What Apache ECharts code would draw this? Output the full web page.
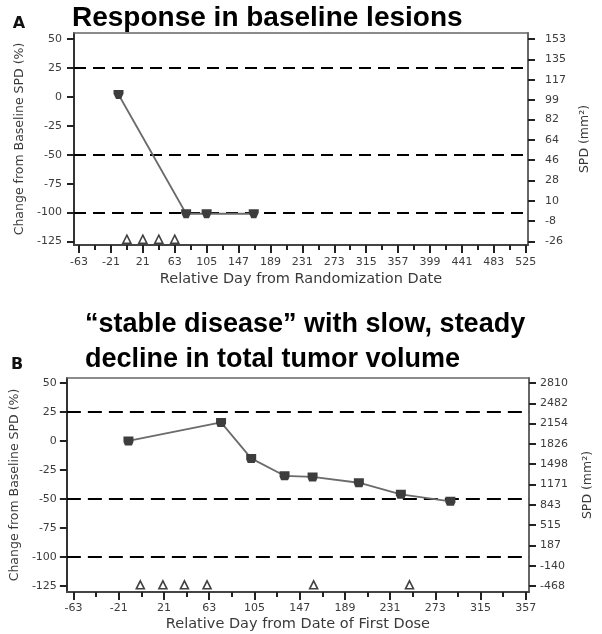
<!DOCTYPE html>
<html><head><meta charset="utf-8">
<script src="https://cdn.jsdelivr.net/npm/echarts@6/dist/echarts.min.js"></script>
<style>html,body{margin:0;padding:0;background:#fff}#c{width:602px;height:634px}</style>
</head><body><div id="c"></div>
<script>
// ---- Panel A data ----
const daysA = [-11, 78, 105, 167];
const pctA = [2, -101, -101, -101];
const doseDaysA = [0, 21, 42, 63];
const doseYA = [-123, -123, -123, -123];
// ---- Panel B data ----
const daysB = [-12, 74, 102, 133, 159, 202, 241, 287];
const pctB = [0, 16, -15, -30, -31, -36, -46, -52];
const doseDaysB = [-1, 20, 40, 61, 160, 249];
const doseYB = [-124, -124, -124, -124, -124, -124];
// ---- reference lines & ticks ----
const refLines = [25, -50, -100];
const leftTicks = [50, 25, 0, -25, -50, -75, -100, -125];
const rightTicksA = [153, 135, 117, 99, 82, 64, 46, 28, 10, -8, -26];
const rightTicksB = [2810, 2482, 2154, 1826, 1498, 1171, 843, 515, 187, -140, -468];
const xMajorA = [-63, -21, 21, 63, 105, 147, 189, 231, 273, 315, 357, 399, 441, 483, 525];
const xMinorA = [-42, 0, 42, 84, 126, 168, 210, 252, 294, 336, 378, 420, 462, 504];
const xMajorB = [-63, -21, 21, 63, 105, 147, 189, 231, 273, 315, 357];
const xMinorB = [-42, 0, 42, 84, 126, 168, 210, 252, 294, 336];
const titleA = 'Response in baseline lesions';
const titleB1 = '\u201Cstable disease\u201D with slow, steady';
const titleB2 = 'decline in total tumor volume';
const xNameA = 'Relative Day from Randomization Date';
const xNameB = 'Relative Day from Date of First Dose';
const yNameLeft = 'Change from Baseline SPD (%)';
const yNameRight = 'SPD (mm\u00B2)';

const FONT = 'DejaVu Sans';
const AX = '#444';
const lblStyle = { fontFamily: FONT, fontSize: 11, color: '#3c3c3c', formatter: v => String(v) };

function xAxes(gridIndex, min, max, majors, minors, name, nameGap, margin) {
  return [
    { type: 'value', gridIndex, position: 'bottom', min, max,
      axisLine: { show: true, onZero: false, lineStyle: { color: AX, width: 2 } },
      axisTick: { show: true, customValues: majors, length: 8, lineStyle: { color: '#222', width: 2 } },
      axisLabel: { show: true, customValues: majors, margin, ...lblStyle },
      splitLine: { show: false },
      name, nameLocation: 'middle', nameGap,
      nameTextStyle: { fontFamily: FONT, fontSize: 14.5, color: '#3a3a3a' } },
    { type: 'value', gridIndex, position: 'bottom', min, max,
      axisLine: { show: false, onZero: false },
      axisTick: { show: true, customValues: minors, length: 5, lineStyle: { color: '#222', width: 2 } },
      axisLabel: { show: false }, splitLine: { show: false } },
    { type: 'value', gridIndex, position: 'top', min, max,
      axisLine: { show: true, onZero: false, lineStyle: { color: '#666', width: 1.5 } },
      axisTick: { show: false }, axisLabel: { show: false }, splitLine: { show: false } }
  ];
}
function yAxes(gridIndex, lmin, lmax, rmin, rmax, rticks, lmargin, rmargin, lgap, rgap) {
  return [
    { type: 'value', gridIndex, position: 'left', min: lmin, max: lmax,
      axisLine: { show: true, onZero: false, lineStyle: { color: '#333', width: 2 } },
      axisTick: { show: true, customValues: leftTicks, length: 7, lineStyle: { color: '#222', width: 2 } },
      axisLabel: { show: true, customValues: leftTicks, margin: lmargin, ...lblStyle },
      splitLine: { show: false },
      name: yNameLeft, nameLocation: 'middle', nameGap: lgap, nameRotate: 90,
      nameTextStyle: { fontFamily: FONT, fontSize: 12.5, color: '#3a3a3a' } },
    { type: 'value', gridIndex, position: 'right', min: rmin, max: rmax,
      axisLine: { show: true, onZero: false, lineStyle: { color: '#666', width: 2 } },
      axisTick: { show: true, customValues: rticks, length: 7, lineStyle: { color: '#222', width: 2 } },
      axisLabel: { show: true, customValues: rticks, margin: rmargin, ...lblStyle },
      splitLine: { show: false },
      name: yNameRight, nameLocation: 'middle', nameGap: rgap, nameRotate: 90,
      nameTextStyle: { fontFamily: FONT, fontSize: 12.5, color: '#3a3a3a' } }
  ];
}
function seriesFor(xi, yi, days, pct, doseDays, doseY, dash, markerPath) {
  return [
    { type: 'line', xAxisIndex: xi, yAxisIndex: yi, data: days.map((d, i) => [d, pct[i]]),
      symbol: markerPath, symbolSize: [10, 9], showSymbol: true, z: 5,
      itemStyle: { color: '#3d3d3d' }, lineStyle: { color: '#6b6b6b', width: 1.8 },
      emphasis: { disabled: true }, animation: false,
      markLine: { silent: true, symbol: ['none', 'none'], label: { show: false }, animation: false,
        lineStyle: { color: '#000', type: dash, width: 2 }, emphasis: { disabled: true },
        data: refLines.map(v => ({ yAxis: v })) } },
    { type: 'scatter', xAxisIndex: xi, yAxisIndex: yi, data: doseDays.map((d, i) => [d, doseY[i]]),
      symbol: 'triangle', symbolSize: [8, 8], z: 6,
      itemStyle: { color: '#fff', borderColor: '#111', borderWidth: 1.6 },
      emphasis: { disabled: true }, animation: false }
  ];
}

const chart = echarts.init(document.getElementById('c'), null, { renderer: 'canvas' });
const option = {
  animation: false,
  backgroundColor: '#fff',
  grid: [
    { left: 74, right: 74, top: 33, bottom: 389, containLabel: false },
    { left: 66, right: 73, top: 378, bottom: 42, containLabel: false }
  ],
  xAxis: [
    ...xAxes(0, -69.6, 528, xMajorA, xMinorA, xNameA, 27, 12),
    ...xAxes(1, -69.2, 360, xMajorB, xMinorB, xNameB, 25, 11)
  ],
  yAxis: [
    ...yAxes(0, -128, 55.2, -29.1, 158.3, rightTicksA, 12, 17, 46, 50),
    ...yAxes(1, -130.2, 54.3, -565.4, 2890.5, rightTicksB, 10, 11, 40, 52)
  ],
  series: [
    ...seriesFor(0, 0, daysA, pctA, doseDaysA, doseYA, [12, 7], 'path://M0,0 H10 V4 L7.5,10 H2.5 L0,4 Z'),
    ...seriesFor(3, 2, daysB, pctB, doseDaysB, doseYB, [14, 7], 'path://M0,0 H10 V6 L8.5,10 H1.5 L0,6 Z')
  ],
  graphic: [
    { type: 'text', x: 72, y: 18, style: { text: titleA, font: 'bold 28px "Liberation Sans", Arial, sans-serif', fill: '#000', align: 'left', verticalAlign: 'middle' } },
    { type: 'text', x: 85, y: 325, style: { text: titleB1, font: 'bold 27px "Liberation Sans", Arial, sans-serif', fill: '#000', align: 'left', verticalAlign: 'middle' } },
    { type: 'text', x: 85, y: 360, style: { text: titleB2, font: 'bold 27px "Liberation Sans", Arial, sans-serif', fill: '#000', align: 'left', verticalAlign: 'middle' } },
    { type: 'text', x: 19, y: 24, style: { text: 'A', font: 'bold 16px "DejaVu Sans"', fill: '#111', align: 'center', verticalAlign: 'middle' } },
    { type: 'text', x: 17, y: 365, style: { text: 'B', font: 'bold 16px "DejaVu Sans"', fill: '#111', align: 'center', verticalAlign: 'middle' } }
  ]
};
chart.setOption(option);
</script>
</body></html>
